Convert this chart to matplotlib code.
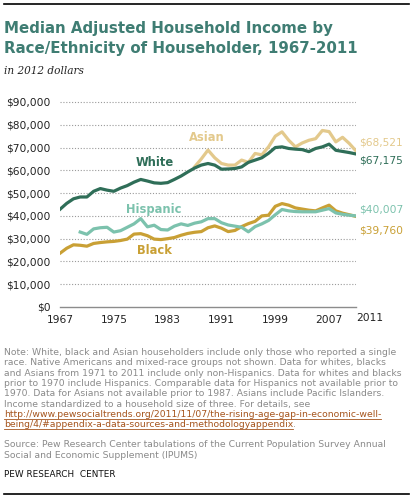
import numpy as np
import matplotlib
matplotlib.use('Agg')
import matplotlib.pyplot as plt

# median adjusted household income, 2012 dollars (thousands)
years_white = np.arange(1967, 2012)
white = [42.9, 45.5, 47.5, 48.3, 48.3, 50.8, 52.0, 51.3, 50.8, 52.2,
         53.3, 54.8, 56.0, 55.3, 54.5, 54.3, 54.6, 56.0, 57.5, 59.3,
         61.0, 62.3, 63.0, 62.3, 60.5, 60.6, 60.8, 61.5, 63.5, 64.5,
         65.5, 67.5, 70.0, 70.3, 69.6, 69.3, 69.1, 68.2, 69.6, 70.3,
         71.5, 68.8, 68.3, 67.8, 67.175]
years_black = np.arange(1967, 2012)
black = [23.6, 25.8, 27.3, 27.1, 26.7, 27.9, 28.3, 28.6, 28.8, 29.2,
         29.8, 32.0, 32.2, 31.3, 29.8, 29.6, 30.0, 30.5, 31.5, 32.3,
         32.8, 33.1, 34.8, 35.6, 34.6, 33.1, 33.6, 35.3, 36.6, 37.6,
         40.0, 40.3, 44.2, 45.4, 44.7, 43.5, 43.0, 42.5, 42.2, 43.5,
         44.7, 42.2, 41.2, 40.5, 39.760]
years_hisp = np.arange(1970, 2012)
hispanic = [32.9, 31.9, 34.3, 34.8, 35.0, 32.9, 33.5, 35.0, 36.5, 38.8,
            35.2, 35.9, 34.0, 33.8, 35.5, 36.5, 35.8, 36.8, 37.4, 38.8,
            38.8, 37.0, 36.0, 35.5, 35.0, 33.0, 35.3, 36.5, 38.0, 40.5,
            42.8, 42.2, 41.9, 41.8, 41.8, 41.8, 42.5, 43.2, 41.3, 40.7,
            40.3, 40.007]
years_asian = np.arange(1987, 2012)
asian = [61.5, 65.0, 68.9, 65.5, 63.0, 62.3, 62.3, 64.5, 63.5, 67.4,
         66.8, 70.3, 75.0, 76.9, 73.2, 70.3, 72.0, 73.2, 73.9, 77.5,
         77.0, 72.5, 74.5, 71.8, 68.521]

yticks = np.arange(0, 90001, 10000)
ytick_labels = ['$0', '$10,000', '$20,000', '$30,000', '$40,000',
                '$50,000', '$60,000', '$70,000', '$80,000', '$90,000']
xticks = [1967, 1975, 1983, 1991, 1999, 2007]

c_white = '#2f6e58'
c_asian = '#e3c98c'
c_hisp = '#7cc2ad'
c_black = '#c9a035'
c_title = '#3f7d73'
c_note = '#8a8a8a'

W, H = 413, 499
fig = plt.figure(figsize=(W / 100, H / 100), dpi=100)

def fy(py):
    return 1 - py / H

# plot area in pixels: x 60..356, $0 at 307, $90k at 102
ymax = 92000
px_per = 205 / 90000
top_px = 307 - ymax * px_per
ax = fig.add_axes([60 / W, 1 - 307 / H, (356 - 60) / W, (307 - top_px) / H])
ax.set_xlim(1967, 2011)
ax.set_ylim(0, ymax)

for v in yticks[1:]:
    ax.axhline(v, color='#9a9a9a', lw=0.8, ls=(0, (1, 1.6)), zorder=1)

ax.plot(years_black, np.array(black) * 1000, color=c_black, lw=2.3, zorder=3)
ax.plot(years_hisp, np.array(hispanic) * 1000, color=c_hisp, lw=2.3, zorder=3)
ax.plot(years_asian, np.array(asian) * 1000, color=c_asian, lw=2.3, zorder=3)
ax.plot(years_white, np.array(white) * 1000, color=c_white, lw=2.3, zorder=4)

for s in ['top', 'right', 'left']:
    ax.spines[s].set_visible(False)
ax.spines['bottom'].set_color('#8c8c8c')
ax.spines['bottom'].set_linewidth(1.0)

ax.set_yticks(yticks)
ax.set_yticklabels(ytick_labels)
ax.set_xticks(xticks)
ax.set_xticklabels([str(x) for x in xticks])
ax.tick_params(axis='both', length=0, labelsize=7.7, colors='#222222')
ax.tick_params(axis='y', pad=7)
ax.tick_params(axis='x', pad=6)
ax.text(2013, -2600, '2011', ha='center', va='top', fontsize=7.7,
        color='#222222', clip_on=False)

# series labels
lab = dict(fontsize=8.3, fontweight='bold', ha='center', va='center')
ax.text(1981.1, 63600, 'White', color=c_white, **lab)
ax.text(1988.8, 74200, 'Asian', color=c_asian, **lab)
ax.text(1981.0, 42600, 'Hispanic', color=c_hisp, **lab)
ax.text(1981.0, 24600, 'Black', color=c_black, **lab)

# end values
end = dict(fontsize=7.7, ha='left', va='center', clip_on=False)
ax.text(2011.4, 72000, '$68,521', color=c_asian, **end)
ax.text(2011.4, 64100, '$67,175', color=c_white, **end)
ax.text(2011.4, 43000, '$40,007', color=c_hisp, **end)
ax.text(2011.4, 33800, '$39,760', color=c_black, **end)

# header
fig.add_artist(plt.Line2D([4 / W, 409 / W], [fy(4), fy(4)], color='black', lw=1.2))
fig.text(4 / W, fy(32.7), 'Median Adjusted Household Income by',
         fontsize=10.85, fontweight='bold', color=c_title, va='baseline')
fig.text(4 / W, fy(52.7), 'Race/Ethnicity of Householder, 1967-2011',
         fontsize=10.85, fontweight='bold', color=c_title, va='baseline')
fig.text(4 / W, fy(74.5), 'in 2012 dollars', fontsize=7.6, style='italic',
         family='DejaVu Serif', color='#222222', va='baseline')

# notes
notes = ['Note: White, black and Asian householders include only those who reported a single',
         'race. Native Americans and mixed-race groups not shown. Data for whites, blacks',
         'and Asians from 1971 to 2011 include only non-Hispanics. Data for whites and blacks',
         'prior to 1970 include Hispanics. Comparable data for Hispanics not available prior to',
         '1970. Data for Asians not available prior to 1987. Asians include Pacific Islanders.',
         'Income standardized to a household size of three. For details, see']
links = ['http://www.pewsocialtrends.org/2011/11/07/the-rising-age-gap-in-economic-well-',
         'being/4/#appendix-a-data-sources-and-methodologyappendix']
nfs = 6.7
y0 = 355
step = 10.33
for i, line in enumerate(notes):
    fig.text(4 / W, fy(y0 + i * step), line, fontsize=nfs, color=c_note, va='baseline')

fig.canvas.draw()
r = fig.canvas.get_renderer()
for j, line in enumerate(links):
    py = y0 + (len(notes) + j) * step
    t = fig.text(4 / W, fy(py), line, fontsize=nfs, color='#a5541c', va='baseline')
    bb = t.get_window_extent(renderer=r)
    fig.add_artist(plt.Line2D([bb.x0 / W, bb.x1 / W], [fy(py + 2), fy(py + 2)],
                              color='#a5541c', lw=0.6))
    if j == len(links) - 1:
        fig.text(bb.x1 / W, fy(py), '.', fontsize=nfs, color=c_note, va='baseline')

fig.text(4 / W, fy(446.7), 'Source: Pew Research Center tabulations of the Current Population Survey Annual',
         fontsize=nfs, color=c_note, va='baseline')
fig.text(4 / W, fy(458.3), 'Social and Economic Supplement (IPUMS)',
         fontsize=nfs, color=c_note, va='baseline')
fig.text(4 / W, fy(476.7), 'PEW RESEARCH  CENTER', fontsize=6.4, color='#111111', va='baseline')
fig.add_artist(plt.Line2D([4 / W, 409 / W], [fy(494), fy(494)], color='black', lw=1.2))

fig.savefig('out.png', dpi=100)
